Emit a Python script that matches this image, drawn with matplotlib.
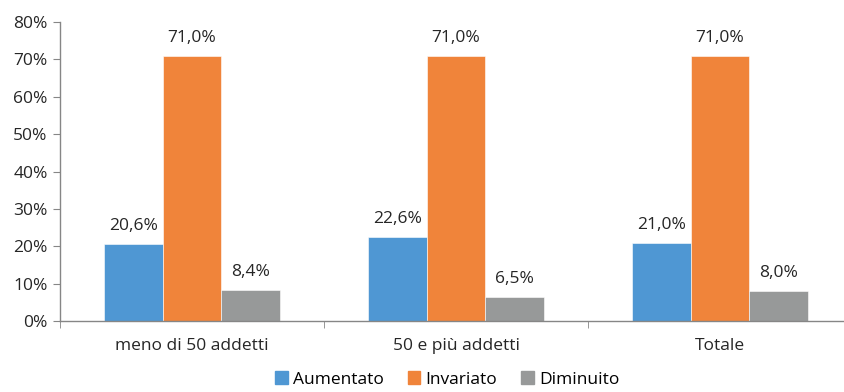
import numpy as np
import matplotlib.pyplot as plt
import matplotlib.patches as mpatches

plt.rcParams['font.family'] = ['Open Sans', 'DejaVu Sans']

categories = ['meno di 50 addetti', '50 e più addetti', 'Totale']
series = ['Aumentato', 'Invariato', 'Diminuito']
aumentato = [20.6, 22.6, 21.0]
invariato = [71.0, 71.0, 71.0]
diminuito = [8.4, 6.5, 8.0]
colors = ['#4F97D3', '#F0843A', '#979999']

label_size = 12.5
fig = plt.figure(figsize=(8.44, 3.92), dpi=100)
ax = fig.add_axes([0.0711, 0.181, 0.9384, 0.763])

x = np.arange(len(categories))
w = 0.222
for i, (vals, col) in enumerate(zip([aumentato, invariato, diminuito], colors)):
    pos = x + (i - 1) * w
    bars = ax.bar(pos, vals, width=w, color=col, edgecolor='white', linewidth=0.4)
    for b, v in zip(bars, vals):
        ax.annotate(('%.1f%%' % v).replace('.', ','), (b.get_x() + b.get_width() / 2, v),
                    xytext=(0, 7), textcoords='offset points', ha='center', va='bottom',
                    fontsize=label_size, color='#262626')

ax.set_xlim(-0.5, 2.5)
ax.set_ylim(0, 80)
ax.set_yticks(range(0, 81, 10))
ax.set_yticklabels(['%d%%' % v for v in range(0, 81, 10)], fontsize=label_size, color='#262626')
ax.set_xticks(x)
ax.set_xticklabels(categories, fontsize=label_size, color='#262626')
ax.set_xticks([-0.5, 0.5, 1.5, 2.5], minor=True)
ax.tick_params(axis='x', which='major', length=0, pad=12)
ax.tick_params(axis='x', which='minor', length=5, color='#868686')
ax.tick_params(axis='y', length=5, color='#868686', pad=4)

for s in ['top', 'right']:
    ax.spines[s].set_visible(False)
for s in ['left', 'bottom']:
    ax.spines[s].set_color('#868686')
    ax.spines[s].set_linewidth(1)

handles = [mpatches.Patch(color=c, label=l) for c, l in zip(colors, series)]
fig.legend(handles=handles, loc='center', bbox_to_anchor=(0.53, 0.032), ncol=3, frameon=False,
           fontsize=label_size, handlelength=0.7, handleheight=0.7, handletextpad=0.3, columnspacing=1.4,
           borderpad=0.1)

fig.savefig('out.png', dpi=100)
